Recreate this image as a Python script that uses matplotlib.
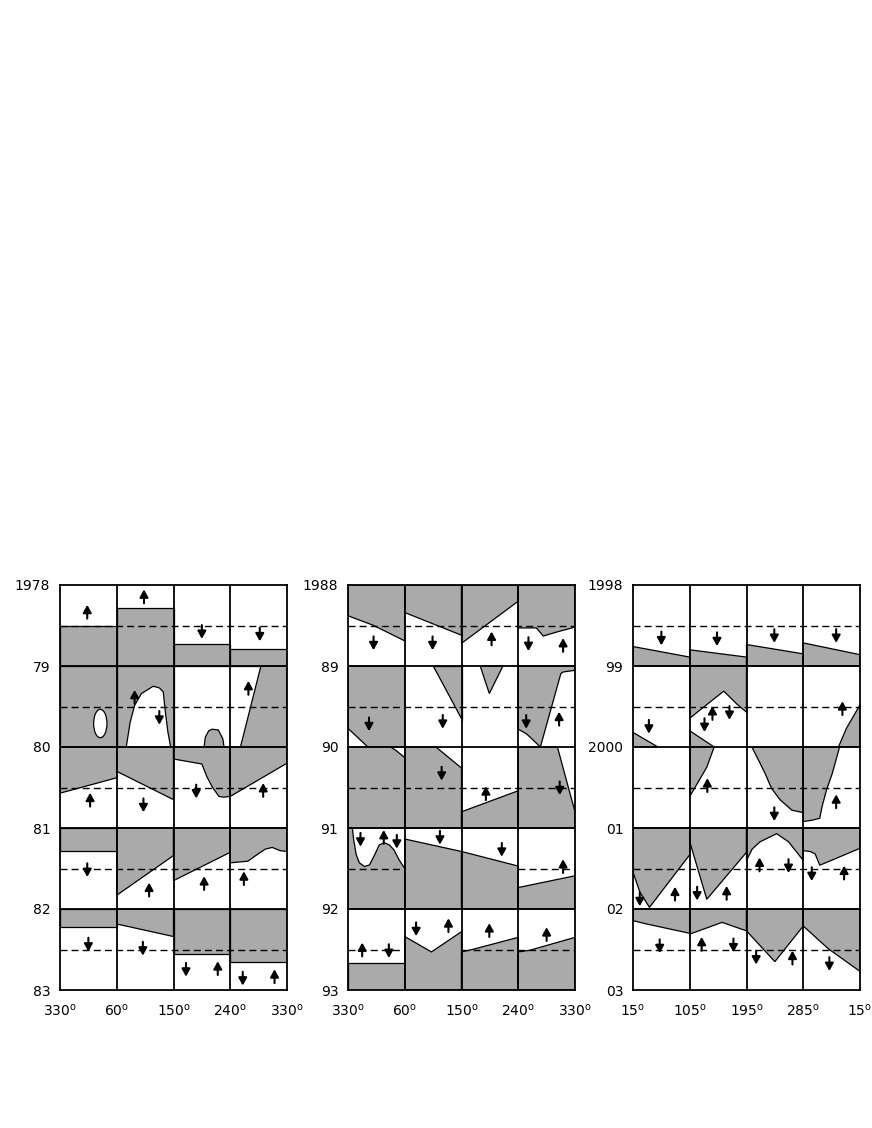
import matplotlib.pyplot as plt
from matplotlib.patches import Polygon, Ellipse

GRAY = "#aaaaaa"


# cell-local shapes: u runs 0..1 across a 90 deg column, v runs 0..1 down a year row
def top(v):
    return [(0, 0), (1, 0), (1, v), (0, v)]


def bot(v):
    return [(0, v), (1, v), (1, 1), (0, 1)]


def above(*pts):
    return [(0, 0)] + list(pts) + [(1, 0)]


def below(*pts):
    return [(0, 1)] + list(pts) + [(1, 1)]


FULL = top(1)

# ---------------- panel 1: 1978-1983 ----------------
left_years = ["1978", "79", "80", "81", "82", "83"]
left_lons = ["330", "60", "150", "240", "330"]
left_gray = {
    (0, 0): [bot(0.5)], (0, 1): [bot(0.29)], (0, 2): [bot(0.73)], (0, 3): [bot(0.79)],
    (1, 0): [FULL], (1, 1): [FULL],
    (1, 2): [[(0.54, 1.0), (0.56, 0.88), (0.62, 0.8), (0.68, 0.78), (0.79, 0.79),
              (0.87, 0.9), (0.89, 1.0)]],
    (1, 3): [[(0.18, 1), (0.54, 0), (1, 0), (1, 1)]],
    (2, 0): [above((0, 0.57), (1, 0.38))],
    (2, 1): [above((0, 0.30), (1, 0.65))],
    (2, 2): [above((0, 0.148), (0.5, 0.21), (0.59, 0.37), (0.68, 0.49), (0.8, 0.61),
                   (0.88, 0.62), (1, 0.61))],
    (2, 3): [above((0, 0.61), (1, 0.2))],
    (3, 0): [top(0.28)],
    (3, 1): [above((0, 0.83), (1, 0.34))],
    (3, 2): [above((0, 0.65), (1, 0.30))],
    (3, 3): [above((0, 0.43), (0.15, 0.42), (0.31, 0.41), (0.47, 0.33), (0.62, 0.26),
                   (0.74, 0.24), (0.88, 0.28), (1, 0.29))],
    (4, 0): [top(0.22)],
    (4, 1): [above((0, 0.185), (1, 0.34))],
    (4, 2): [top(0.55)], (4, 3): [top(0.66)],
}
left_white = {
    (1, 1): [[(0.167, 1.0), (0.238, 0.69), (0.315, 0.486), (0.435, 0.34), (0.643, 0.25),
              (0.75, 0.27), (0.82, 0.32), (0.85, 0.53), (0.9, 0.81), (0.95, 1.0)]],
}
left_ovals = {(1, 0): (0.71, 0.71, 0.235, 0.35)}
left_arrows = {
    (0, 0): [(0.48, 0.33, 1)], (0, 1): [(0.48, 0.14, 1)],
    (0, 2): [(0.5, 0.58, -1)], (0, 3): [(0.52, 0.61, -1)],
    (1, 1): [(0.315, 0.38, 1), (0.75, 0.64, -1)], (1, 3): [(0.32, 0.27, 1)],
    (2, 0): [(0.53, 0.65, 1)], (2, 1): [(0.47, 0.72, -1)],
    (2, 2): [(0.40, 0.55, -1)], (2, 3): [(0.58, 0.53, 1)],
    (3, 0): [(0.48, 0.52, -1)], (3, 1): [(0.57, 0.76, 1)],
    (3, 2): [(0.54, 0.68, 1)], (3, 3): [(0.24, 0.62, 1)],
    (4, 0): [(0.5, 0.44, -1)], (4, 1): [(0.46, 0.49, -1)],
    (4, 2): [(0.22, 0.75, -1), (0.78, 0.73, 1)],
    (4, 3): [(0.22, 0.86, -1), (0.78, 0.83, 1)],
}
left_nodash = []

# ---------------- panel 2: 1988-1993 ----------------
mid_years = ["1988", "89", "90", "91", "92", "93"]
mid_lons = ["330", "60", "150", "240", "330"]
mid_gray = {
    (0, 0): [above((0, 0.38), (0.44, 0.496), (1, 0.69))],
    (0, 1): [above((0, 0.34), (1, 0.62))],
    (0, 2): [above((0, 0.72), (1, 0.2))],
    (0, 3): [above((0, 0.53), (0.32, 0.53), (0.44, 0.63), (0.68, 0.58), (1, 0.52))],
    (1, 0): [[(0, 0), (1, 0), (1, 1), (0.35, 1), (0, 0.77)]],
    (1, 1): [[(0.49, 0), (1, 0), (1, 0.67)]],
    (1, 2): [[(0.33, 0), (0.49, 0.34), (0.73, 0)]],
    (1, 3): [[(0, 0), (1, 0), (1, 0.053), (0.79, 0.074), (0.75, 0.095), (0.39, 1),
              (0.15, 0.84), (0, 0.78)]],
    (2, 0): [[(0, 0), (0.75, 0), (0.84, 0.04), (1, 0.13), (1, 1), (0, 1)]],
    (2, 1): [[(0, 0), (0.55, 0), (1, 0.26), (1, 1), (0, 1)]],
    (2, 2): [below((0, 0.80), (1, 0.54))],
    (2, 3): [[(0, 0), (0.69, 0), (1, 0.80), (1, 1), (0, 1)]],
    (3, 0): [[(0, 0), (0.076, 0), (0.1, 0.145), (0.145, 0.33), (0.2, 0.43), (0.29, 0.475),
              (0.38, 0.455), (0.47, 0.33), (0.55, 0.21), (0.64, 0.18), (0.73, 0.21),
              (0.81, 0.27), (0.9, 0.393), (1, 0.5), (1, 1), (0, 1)]],
    (3, 1): [below((0, 0.136), (1, 0.29))],
    (3, 2): [below((0, 0.29), (1, 0.47))],
    (3, 3): [below((0, 0.735), (1, 0.59))],
    (4, 0): [bot(0.67)],
    (4, 1): [below((0, 0.34), (0.47, 0.53), (1, 0.28))],
    (4, 2): [below((0, 0.53), (0.19, 0.5), (1, 0.35))],
    (4, 3): [below((0, 0.53), (0.2, 0.51), (1, 0.35))],
}
mid_white = {}
mid_ovals = {}
mid_arrows = {
    (0, 0): [(0.45, 0.72, -1)], (0, 1): [(0.49, 0.72, -1)], (0, 2): [(0.53, 0.66, 1)],
    (0, 3): [(0.18, 0.73, -1), (0.79, 0.74, 1)],
    (1, 0): [(0.37, 0.72, -1)], (1, 1): [(0.67, 0.69, -1)],
    (1, 3): [(0.14, 0.69, -1), (0.72, 0.65, 1)],
    (2, 1): [(0.65, 0.33, -1)], (2, 2): [(0.43, 0.57, 1)], (2, 3): [(0.73, 0.51, -1)],
    (3, 0): [(0.22, 0.145, -1), (0.63, 0.11, 1), (0.86, 0.17, -1)],
    (3, 1): [(0.62, 0.12, -1)], (3, 2): [(0.71, 0.27, -1)], (3, 3): [(0.79, 0.47, 1)],
    (4, 0): [(0.25, 0.5, 1), (0.72, 0.52, -1)],
    (4, 1): [(0.2, 0.25, -1), (0.77, 0.2, 1)],
    (4, 2): [(0.49, 0.26, 1)], (4, 3): [(0.5, 0.31, 1)],
}
mid_nodash = [(3, 1), (3, 2), (4, 1)]

# ---------------- panel 3: 1998-2003 ----------------
right_years = ["1998", "99", "2000", "01", "02", "03"]
right_lons = ["15", "105", "195", "285", "15"]
right_gray = {
    (0, 0): [below((0, 0.76), (1, 0.89))],
    (0, 1): [below((0, 0.8), (1, 0.89))],
    (0, 2): [below((0, 0.735), (1, 0.85))],
    (0, 3): [below((0, 0.715), (1, 0.86))],
    (1, 0): [[(0, 0.82), (0.44, 1), (0, 1)]],
    (1, 1): [above((0, 0.645), (0.33, 0.46), (0.6, 0.31), (0.83, 0.47), (1, 0.57)),
             [(0, 0.8), (0.43, 1), (0, 1)]],
    (1, 3): [[(0.62, 1), (0.76, 0.77), (1, 0.48), (1, 1)]],
    (2, 1): [[(0, 0), (0.43, 0), (0.3, 0.25), (0, 0.61)]],
    (2, 2): [[(0.094, 0), (1, 0), (1, 0.81), (0.8, 0.78), (0.59, 0.65), (0.44, 0.51),
              (0.33, 0.33), (0.21, 0.16)]],
    (2, 3): [[(0, 0), (0.64, 0), (0.51, 0.33), (0.41, 0.53), (0.33, 0.74), (0.29, 0.88),
              (0.15, 0.905), (0, 0.92)]],
    (3, 0): [above((0, 0.545), (0.12, 0.79), (0.29, 0.98), (1, 0.33))],
    (3, 1): [above((0, 0.17), (0.3, 0.88), (1, 0.3))],
    (3, 2): [above((0, 0.4), (0.1, 0.26), (0.24, 0.17), (0.53, 0.07), (0.74, 0.17),
                   (1, 0.4))],
    (3, 3): [above((0, 0.28), (0.12, 0.29), (0.21, 0.32), (0.29, 0.46), (0.53, 0.39),
                   (1, 0.25))],
    (4, 0): [above((0, 0.144), (0.24, 0.185), (1, 0.30))],
    (4, 1): [above((0, 0.31), (0.57, 0.165), (1, 0.27))],
    (4, 2): [above((0, 0.27), (0.5, 0.65), (1, 0.21))],
    (4, 3): [above((0, 0.21), (0.44, 0.49), (1, 0.77))],
}
right_white = {}
right_ovals = {}
right_arrows = {
    (0, 0): [(0.5, 0.66, -1)], (0, 1): [(0.48, 0.67, -1)],
    (0, 2): [(0.49, 0.63, -1)], (0, 3): [(0.58, 0.63, -1)],
    (1, 0): [(0.28, 0.75, -1)],
    (1, 1): [(0.26, 0.73, -1), (0.4, 0.58, 1), (0.7, 0.58, -1)],
    (1, 3): [(0.69, 0.52, 1)],
    (2, 1): [(0.31, 0.47, 1)], (2, 2): [(0.49, 0.83, -1)], (2, 3): [(0.58, 0.67, 1)],
    (3, 0): [(0.12, 0.88, -1), (0.74, 0.81, 1)],
    (3, 1): [(0.13, 0.81, -1), (0.65, 0.8, 1)],
    (3, 2): [(0.23, 0.45, 1), (0.74, 0.47, -1)],
    (3, 3): [(0.15, 0.57, -1), (0.72, 0.55, 1)],
    (4, 0): [(0.47, 0.46, -1)],
    (4, 1): [(0.21, 0.43, 1), (0.77, 0.45, -1)],
    (4, 2): [(0.17, 0.6, -1), (0.81, 0.6, 1)],
    (4, 3): [(0.46, 0.68, -1)],
}
right_nodash = []

ARROW_LEN = 0.17


def draw_panel(ax, years, lons, gray, white, ovals, arrows, nodash):
    for (r, c), polys in gray.items():
        for p in polys:
            pts = [(c + u, r + v) for u, v in p]
            ax.add_patch(Polygon(pts, closed=True, facecolor=GRAY, edgecolor="black",
                                 lw=0.9, zorder=1))
    for (r, c), polys in white.items():
        for p in polys:
            pts = [(c + u, r + v) for u, v in p]
            ax.add_patch(Polygon(pts, closed=True, facecolor="white", edgecolor="black",
                                 lw=0.9, zorder=1.5))
    for (r, c), (u, v, w, h) in ovals.items():
        ax.add_patch(Ellipse((c + u, r + v), w, h, facecolor="white", edgecolor="black",
                             lw=0.9, zorder=1.5))
    # dashed mid-year lines
    for r in range(5):
        c = 0
        while c < 4:
            if (r, c) in nodash:
                c += 1
                continue
            c0 = c
            while c < 4 and (r, c) not in nodash:
                c += 1
            ax.plot([c0, c], [r + 0.5, r + 0.5], color="black", lw=1.0,
                    ls=(0, (5, 3)), zorder=2)
    ax.hlines(range(1, 5), 0, 4, color="black", lw=1.3, zorder=3)
    ax.vlines(range(1, 4), 0, 5, color="black", lw=1.3, zorder=3)
    for (r, c), arrs in arrows.items():
        for u, v, d in arrs:
            x, y = c + u, r + v
            ax.annotate("", xy=(x, y - d * ARROW_LEN / 2), xytext=(x, y + d * ARROW_LEN / 2),
                        arrowprops=dict(arrowstyle="-|>,head_length=0.45,head_width=0.25",
                                        color="black", lw=1.5,
                                        shrinkA=0, shrinkB=0, mutation_scale=10),
                        zorder=4)
    ax.set_xlim(0, 4)
    ax.set_ylim(5, 0)
    ax.set_xticks(range(5))
    ax.set_xticklabels([r"$%s^{\rm o}$" % s for s in lons])
    ax.set_yticks(range(6))
    ax.set_yticklabels(years)
    ax.tick_params(length=0, labelsize=10, pad=7)
    ax.tick_params(axis="x", pad=9)
    for s in ax.spines.values():
        s.set_linewidth(1.3)
        s.set_color("black")


W, H = 872, 1128
fig = plt.figure(figsize=(W / 100, H / 100), dpi=100)
plt.rcParams["mathtext.fontset"] = "dejavusans"

panels = [
    (60, left_years, left_lons, left_gray, left_white, left_ovals, left_arrows, left_nodash),
    (348, mid_years, mid_lons, mid_gray, mid_white, mid_ovals, mid_arrows, mid_nodash),
    (633, right_years, right_lons, right_gray, right_white, right_ovals, right_arrows,
     right_nodash),
]
for x0, *rest in panels:
    ax = fig.add_axes([x0 / W, 1 - 990 / H, 227 / W, 405 / H])
    draw_panel(ax, *rest)

fig.savefig("out.png", dpi=100)
